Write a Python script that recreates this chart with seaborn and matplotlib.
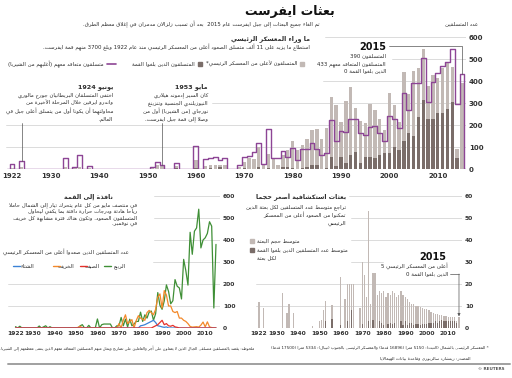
import re
import numpy as np
import pandas as pd
import matplotlib
matplotlib.use("Agg")
import matplotlib.pyplot as plt
import seaborn as sns
from matplotlib.lines import Line2D
from matplotlib.patches import Rectangle

# ---------------- data ----------------
years = list(range(1922, 2016))
decade_ticks = [1922, 1930, 1940, 1950, 1960, 1970, 1980, 1990, 2000, 2010]

climbers_total = [6, 0, 8, 0, 0, 0, 0, 0,
                  0, 0, 0, 9, 0, 5, 10, 0, 6, 0,
                  0, 0, 0, 0, 0, 0, 0, 1, 0, 0,
                  0, 3, 18, 15, 0, 0, 12, 0, 0, 0,
                  41, 0, 15, 18, 18, 18, 18, 0, 0, 10,
                  30, 48, 45, 100, 25, 70, 48, 18, 64, 86,
                  127, 86, 109, 135, 177, 182, 135, 185, 326, 291,
                  215, 311, 371, 276, 218, 211, 295, 268, 227, 177,
                  347, 291, 215, 442, 339, 445, 461, 544, 377, 427,
                  415, 458, 488, 465, 91, 390]
summiters = [0, 0, 0, 0, 0, 0, 0, 0,
             0, 0, 0, 0, 0, 0, 0, 0, 0, 0,
             0, 0, 0, 0, 0, 0, 0, 0, 0, 0,
             0, 0, 0, 2, 0, 0, 4, 0, 0, 0,
             3, 0, 0, 6, 0, 9, 0, 0, 0, 0,
             4, 0, 0, 8, 0, 6, 0, 0, 10, 8,
             5, 0, 6, 10, 18, 18, 2, 3, 53, 14,
             56, 26, 64, 79, 26, 56, 56, 48, 64, 71,
             71, 102, 86, 129, 162, 152, 238, 314, 227, 227,
             256, 253, 273, 305, 48, 0]
contracted = [25, 0, 38, 0, 0, 0, 0, 0,
              0, 0, 0, 48, 0, 10, 62, 0, 12, 0,
              0, 0, 0, 0, 0, 0, 0, 2, 0, 0,
              0, 8, 33, 18, 0, 0, 26, 0, 0, 0,
              105, 0, 44, 48, 56, 41, 48, 0, 0, 18,
              56, 60, 79, 117, 25, 180, 48, 48, 83, 56,
              97, 41, 89, 89, 117, 89, 64, 71, 223, 129,
              173, 170, 226, 227, 162, 155, 192, 195, 162, 129,
              242, 226, 185, 347, 268, 389, 389, 503, 306, 397,
              438, 470, 487, 545, 294, 433]

spring = [6, 0, 8, 0, 0, 0, 0, 0,
          0, 0, 0, 9, 0, 5, 10, 0, 6, 0,
          0, 0, 0, 0, 0, 0, 0, 1, 0, 0,
          0, 0, 10, 15, 0, 0, 12, 0, 0, 0,
          41, 0, 15, 18, 18, 18, 18, 0, 0, 10,
          10, 48, 10, 40, 5, 40, 10, 18, 30, 30,
          72, 30, 60, 45, 72, 77, 35, 65, 161, 103,
          85, 123, 196, 166, 110, 124, 220, 190, 182, 132,
          312, 261, 195, 435, 335, 440, 455, 540, 364, 400,
          410, 430, 483, 463, 91, 380]
autumn = [0, 0, 0, 0, 0, 0, 0, 0,
          0, 0, 0, 0, 0, 0, 0, 0, 0, 0,
          0, 0, 0, 0, 0, 0, 0, 0, 0, 0,
          0, 3, 8, 0, 0, 0, 0, 0, 0, 0,
          0, 0, 0, 0, 0, 0, 0, 0, 0, 0,
          20, 0, 35, 60, 20, 30, 38, 0, 34, 56,
          45, 40, 35, 70, 80, 70, 60, 85, 140, 155,
          90, 170, 150, 100, 100, 75, 70, 75, 45, 45,
          35, 30, 20, 7, 4, 5, 6, 4, 13, 27,
          5, 28, 5, 2, 0, 0]
winter = [0, 0, 0, 0, 0, 0, 0, 0,
          0, 0, 0, 0, 0, 0, 0, 0, 0, 0,
          0, 0, 0, 0, 0, 0, 0, 0, 0, 0,
          0, 0, 0, 0, 0, 0, 0, 0, 0, 0,
          0, 0, 0, 0, 0, 0, 0, 0, 0, 0,
          0, 0, 0, 0, 0, 0, 0, 0, 0, 0,
          10, 12, 15, 20, 25, 30, 35, 25, 10, 8,
          5, 3, 5, 0, 0, 0, 0, 0, 0, 0,
          0, 0, 0, 0, 0, 0, 0, 0, 0, 0,
          0, 0, 0, 0, 0, 0]
summer = [0, 0, 0, 0, 0, 0, 0, 0,
          0, 0, 0, 0, 0, 0, 0, 0, 0, 0,
          0, 0, 0, 0, 0, 0, 0, 0, 0, 0,
          0, 0, 0, 0, 0, 0, 0, 0, 0, 0,
          0, 0, 0, 0, 0, 0, 0, 0, 0, 0,
          0, 0, 0, 0, 0, 0, 0, 0, 0, 0,
          0, 0, 0, 0, 0, 0, 5, 10, 15, 25,
          35, 15, 20, 10, 8, 12, 5, 3, 0, 0,
          0, 0, 0, 0, 0, 0, 0, 0, 0, 0,
          0, 0, 0, 0, 0, 0]

avg_size = [12, 0, 9, 0, 0, 0, 0, 0,
            0, 0, 0, 16, 0, 6.6, 10.7, 0, 7, 0,
            0, 0, 0, 0, 0, 0, 0, 1, 0, 0,
            3, 3.6, 8, 12.5, 0, 0, 10.6, 0, 0, 0,
            23, 0, 13, 20, 20, 20, 20, 0, 0, 9,
            30, 24, 14, 53, 11, 25, 25, 15, 17, 16,
            17, 14, 16, 15, 17, 16, 14, 15, 17, 15,
            14, 13, 12, 11, 11, 10, 10, 9.5, 9, 8.5,
            8.5, 8, 7.5, 7, 6.5, 6.5, 6, 6, 5.5, 5.5,
            5, 5, 5, 5, 3, 5]
avg_summit = [0, 0, 0, 0, 0, 0, 0, 0,
              0, 0, 0, 0, 0, 0, 0, 0, 0, 0,
              0, 0, 0, 0, 0, 0, 0, 0, 0, 0,
              0, 0, 0, 3, 0, 0, 4, 0, 0, 0,
              1.5, 0, 0, 3, 0, 8, 0, 0, 0, 0,
              2, 0, 0, 3, 0, 3.5, 0, 0, 3, 2.5,
              1.5, 0, 2, 2.5, 2, 2.5, 0, 0, 3, 1.5,
              3, 1.5, 2.5, 2.5, 1.5, 2, 2, 1.5, 2, 2,
              1.8, 2.5, 2.5, 2.5, 3, 2.5, 3.2, 3.5, 3.3, 3,
              3.2, 3, 3.3, 3.4, 2.5, 0]

top_ticks = [0, 100, 200, 300, 400, 500, 600]
left_ticks = [0, 100, 200, 300, 400, 500, 600]
right_ticks = [0, 10, 20, 30, 40, 50, 60]

# ---------------- Arabic shaping helpers ----------------
_BASE = {'ء': 0xFE80, 'آ': 0xFE81, 'أ': 0xFE83, 'ؤ': 0xFE85, 'إ': 0xFE87, 'ئ': 0xFE89,
         'ا': 0xFE8D, 'ب': 0xFE8F, 'ة': 0xFE93, 'ت': 0xFE95, 'ث': 0xFE99, 'ج': 0xFE9D,
         'ح': 0xFEA1, 'خ': 0xFEA5, 'د': 0xFEA9, 'ذ': 0xFEAB, 'ر': 0xFEAD, 'ز': 0xFEAF,
         'س': 0xFEB1, 'ش': 0xFEB5, 'ص': 0xFEB9, 'ض': 0xFEBD, 'ط': 0xFEC1, 'ظ': 0xFEC5,
         'ع': 0xFEC9, 'غ': 0xFECD, 'ف': 0xFED1, 'ق': 0xFED5, 'ك': 0xFED9, 'ل': 0xFEDD,
         'م': 0xFEE1, 'ن': 0xFEE5, 'ه': 0xFEE9, 'و': 0xFEED, 'ى': 0xFEEF, 'ي': 0xFEF1}
_LAMALEF = {'آ': 0xFEF5, 'أ': 0xFEF7, 'إ': 0xFEF9, 'ا': 0xFEFB}
_DUAL = set('بتثجحخسشصضطظعغفقكلمنهيئ')
_RIGHT = set('اأإآدذرزوؤةى')


def _jt(tok):
    c = tok[0]
    if c == 'LA':
        return 'R'
    if c in _DUAL:
        return 'D'
    if c in _RIGHT:
        return 'R'
    return 'U'


def _shape(s):
    toks = []
    i = 0
    while i < len(s):
        c = s[i]
        if c == 'ل' and i + 1 < len(s) and s[i + 1] in _LAMALEF:
            toks.append(('LA', s[i + 1]))
            i += 2
        else:
            toks.append((c, None))
            i += 1
    out = []
    for k, tok in enumerate(toks):
        t = _jt(tok)
        if t == 'U' or (tok[0] not in _BASE and tok[0] != 'LA'):
            out.append(tok[0])
            continue
        jp = k > 0 and _jt(toks[k - 1]) == 'D'
        jn = t == 'D' and k + 1 < len(toks) and _jt(toks[k + 1]) in ('D', 'R')
        if tok[0] == 'LA':
            out.append(chr(_LAMALEF[tok[1]] + (1 if jp else 0)))
            continue
        b = _BASE[tok[0]]
        if t == 'R':
            out.append(chr(b + (1 if jp else 0)))
        else:
            if jp and jn:
                out.append(chr(b + 3))
            elif jp:
                out.append(chr(b + 1))
            elif jn:
                out.append(chr(b + 2))
            else:
                out.append(chr(b))
    return ''.join(out)


def _visual(s):
    toks = re.findall(r'[0-9A-Za-z]+(?:[.,][0-9]+)*|.', s)
    mirror = {'(': ')', ')': '('}
    toks = [mirror.get(t, t) for t in toks]
    return ''.join(reversed(toks))


def ar(s):
    return '\n'.join(_visual(_shape(line)) for line in s.split('\n'))


# ---------------- figure ----------------
sns.set_style("white")
plt.rcParams['font.family'] = ['DejaVu Sans']

W, H = 512, 378
fig = plt.figure(figsize=(W / 100, H / 100), dpi=100)
fig.patch.set_facecolor('white')

LIGHT = '#c2b9b5'
DARK = '#7a6d69'
PURPLE = '#8d4595'
GRID = '#d6d6d6'
TXT = '#2b2b2b'
C_SPRING = '#3f8f36'
C_SUMMER = '#e5312b'
C_AUTUMN = '#f3892a'
C_WINTER = '#3b82d6'


def rect(x0, y0, x1, y1):
    return [x0 / W, 1 - y1 / H, (x1 - x0) / W, (y1 - y0) / H]


def ftext(x, y, s, size=4.1, ha='right', weight='normal', color=TXT):
    fig.text(x / W, 1 - y / H, ar(s), fontsize=size, ha=ha, va='center',
             fontweight=weight, color=color)


def to_data(ax, x, y):
    return ax.transData.inverted().transform((x, H - y))


def style_axis(ax, xlim, ylim, yticks, labelsize=5, xlabels=True):
    ax.set_xlim(*xlim)
    ax.set_ylim(*ylim)
    ax.yaxis.tick_right()
    ax.set_yticks(yticks)
    ax.set_xticks(decade_ticks)
    if xlabels:
        ax.set_xticklabels([str(t) for t in decade_ticks], fontweight='bold')
    else:
        ax.set_xticklabels([])
    ax.set_yticklabels([str(t) for t in yticks], fontweight='bold')
    ax.tick_params(length=0, labelsize=labelsize, pad=2, colors='#333333')
    for sp in ax.spines.values():
        sp.set_visible(False)
    ax.set_xlabel('')
    ax.set_ylabel('')
    ax.set_facecolor('none')


def gridlines(ax, specs, x0, x1):
    for v, s, e in specs:
        ax.axhline(v, xmin=(s - x0) / (x1 - x0), xmax=(e - x0) / (x1 - x0),
                   color=GRID, lw=0.6, zorder=0)


# ---------- top chart ----------
ax1 = fig.add_axes(rect(6, 37, 466, 169))
df_top = pd.DataFrame({'year': years, 'total': climbers_total, 'summit': summiters})
sns.barplot(data=df_top, x='year', y='total', native_scale=True, width=0.7,
            color=LIGHT, saturation=1, errorbar=None, linewidth=0, ax=ax1)
sns.barplot(data=df_top, x='year', y='summit', native_scale=True, width=0.7,
            color=DARK, saturation=1, errorbar=None, linewidth=0, ax=ax1)
step_x = [years[0] - 1] + years + [years[-1] + 1]
step_y = [0] + contracted + [0]
sns.lineplot(x=step_x, y=step_y, drawstyle='steps-mid', color=PURPLE, lw=1.0,
             estimator=None, ax=ax1)
style_axis(ax1, (1920.76, 2015.83), (0, 600), top_ticks, xlabels=False)
gridlines(ax1, [(0, 6, 466), (100, 6, 466), (200, 6, 466), (300, 212, 466),
                (400, 323, 466), (500, 392, 466), (600, 325, 466)], 6, 466)

for yr in (1924, 1953):
    i = years.index(yr)
    _, ytop = to_data(ax1, 0, 123)
    ax1.plot([yr, yr], [ytop, contracted[i]], color='#555555', lw=0.5, clip_on=False)
xa, ya = to_data(ax1, 389, 46)
ax1.plot([xa, years[-1], years[-1]], [ya, ya, contracted[-1]], color='#555555',
         lw=0.5, clip_on=False)
ax1.set_xlim(1920.76, 2015.83)
ax1.set_ylim(0, 600)

# year labels of the top chart, placed through its data transform
for yr in decade_ticks:
    px, _ = ax1.transData.transform((yr, 0))
    fig.text(px / W, 1 - 176 / H, str(yr), fontsize=5, fontweight='bold',
             ha='center', va='center', color='#333333', zorder=10)

# ---------- bottom-left chart ----------
ax2 = fig.add_axes(rect(8, 196, 220, 328))
df_season = pd.DataFrame({
    'year': years * 4,
    'value': spring + autumn + winter + summer,
    'season': ['spring'] * len(years) + ['autumn'] * len(years) +
              ['winter'] * len(years) + ['summer'] * len(years)})
sns.lineplot(data=df_season, x='year', y='value', hue='season',
             hue_order=['spring', 'autumn', 'winter', 'summer'],
             palette={'spring': C_SPRING, 'autumn': C_AUTUMN,
                      'winter': C_WINTER, 'summer': C_SUMMER},
             lw=0.9, estimator=None, legend=False, ax=ax2)
style_axis(ax2, (1918.52, 2016.86), (0, 600), left_ticks, labelsize=4.3)
gridlines(ax2, [(0, 8, 220), (100, 8, 220), (200, 8, 220), (300, 153, 220),
                (400, 154, 220), (500, 154, 220), (600, 154, 220)], 8, 220)

# ---------- bottom-right chart ----------
ax3 = fig.add_axes(rect(256, 196, 462, 328))
df_exp = pd.DataFrame({'year': years, 'size': avg_size, 'summit': avg_summit})
sns.barplot(data=df_exp, x='year', y='size', native_scale=True, width=0.6,
            color=LIGHT, saturation=1, errorbar=None, linewidth=0, ax=ax3)
sns.barplot(data=df_exp, x='year', y='summit', native_scale=True, width=0.6,
            color=DARK, saturation=1, errorbar=None, linewidth=0, ax=ax3)
style_axis(ax3, (1920.6, 2016.4), (0, 60), right_ticks, labelsize=4.3)
gridlines(ax3, [(0, 256, 462), (10, 256, 462), (20, 256, 462), (30, 351, 383),
                (40, 351, 462), (50, 351, 462), (60, 349, 462)], 256, 462)
xb, yb = to_data(ax3, 450, 274)
ax3.plot([xb, years[-1]], [yb, yb], color='#555555', lw=0.5, clip_on=False)
ax3.annotate('', xy=(years[-1], avg_size[-1] + 0.3), xytext=(years[-1], yb),
             arrowprops=dict(arrowstyle='-|>', lw=0.5, color='#555555',
                             mutation_scale=4, shrinkA=0, shrinkB=0),
             annotation_clip=False)
ax3.set_xlim(1920.6, 2016.4)

# ---------------- texts ----------------
ftext(290, 12, 'بعثات ايفرست', size=9, ha='center', weight='bold', color='#111111')
ftext(320, 24, 'تم الغاء جميع البعثات إلى جبل ايفرست عام 2015  بعد أن تسبب زلزالان مدمران في إغلاق معظم الطرق.', size=3.9)
ftext(478, 24, 'عدد المتسلقين', size=3.9)
ftext(310, 39, 'ما وراء المعسكر الرئيسي', size=4.6, weight='bold')
ftext(310, 47, 'استطاع ما يزيد على 11 ألف متسلق الصعود أعلى من المعسكر الرئيسي منذ عام 1922 وبلغ 3700 منهم قمة ايفرست.', size=3.9)

fig.add_artist(Rectangle((300 / W, 1 - 66 / H), 4 / W, 4 / H, color=LIGHT,
                         transform=fig.transFigure))
ftext(297, 64, 'المتسلقون لأعلى من المعسكر الرئيسي*', size=3.9)
fig.add_artist(Rectangle((198 / W, 1 - 66 / H), 4 / W, 4 / H, color=DARK,
                         transform=fig.transFigure))
ftext(195, 64, 'المتسلقون الذين بلغوا القمة', size=3.9)
fig.add_artist(Line2D([107 / W, 116 / W], [1 - 64 / H] * 2, color=PURPLE, lw=1.2))
ftext(104, 64, 'متسلقون متعاقد معهم (أغلبهم من الشيربا)', size=3.9)

ftext(113, 87, 'يونيو 1924', size=4.6, weight='bold')
for k, line in enumerate(['اختفى المتسلقان البريطانيان جورج مالوري',
                          'واندرو ايرفين خلال المرحلة الأخيرة من',
                          'محاولتهما أن يكونا أول من يتسلق أعلى جبل في',
                          'العالم.']):
    ftext(113, 95 + 8 * k, line, size=3.9)
ftext(208, 87, 'مايو 1953', size=4.6, weight='bold')
for k, line in enumerate(['كان السير إدموند هيلاري',
                          'النيوزيلندي الجنسية وتنزينغ',
                          'نورجاي (من الشيربا) أول من',
                          'وصلا إلى قمة جبل ايفرست.']):
    ftext(208, 95 + 8 * k, line, size=3.9)
ftext(386, 47, '2015', size=7, weight='bold', color='#111111')
ftext(386, 56, 'المتسلقون 390', size=3.9)
ftext(386, 64, 'المتسلقون المتعاقد معهم 433', size=3.9)
ftext(386, 71, 'الذين بلغوا القمة 0', size=3.9)

ftext(113, 197, 'نافذة إلى القمة', size=4.6, weight='bold')
for k, line in enumerate(['في منتصف مايو من كل عام يتحرك تيار إلى الشمال حاملا',
                          'رياحا هادئة ودرجات حرارة دافئة بما يكفي ليحاول',
                          'المتسلقون الصعود. وتكون هناك فترة مشابهة كل خريف',
                          'في نوفمبر.']):
    ftext(137, 205 + 6.5 * k, line, size=3.9)
ftext(129, 252, 'عدد المتسلقين الذين صعدوا أعلى من المعسكر الرئيسي', size=3.9)
for lx, tx, col, lab in [(104, 126, C_SPRING, 'الربيع'), (80, 100, C_SUMMER, 'الصيف'),
                         (53, 74, C_AUTUMN, 'الخريف'), (13, 34, C_WINTER, 'الشتاء')]:
    fig.add_artist(Line2D([lx / W, (lx + 7) / W], [1 - 266 / H] * 2, color=col, lw=1.0))
    ftext(tx, 266, lab, size=3.9)

ftext(346, 197, 'بعثات استكشافية أصغر حجما', size=4.6, weight='bold')
for k, line in enumerate(['تراجع متوسط عدد المتسلقين لكل بعثة الذين',
                          'تمكنوا من الصعود أعلى من المعسكر',
                          'الرئيسي']):
    ftext(346, 207 + 8 * k, line, size=3.9)
fig.add_artist(Rectangle((250 / W, 1 - 243 / H), 4 / W, 4 / H, color=LIGHT,
                         transform=fig.transFigure))
ftext(257, 241, 'متوسط حجم البعثة', size=3.9, ha='left')
fig.add_artist(Rectangle((250 / W, 1 - 252 / H), 4 / W, 4 / H, color=DARK,
                         transform=fig.transFigure))
ftext(257, 250, 'متوسط عدد المتسلقين الذين بلغوا القمة', size=3.9, ha='left')
ftext(257, 258, 'لكل بعثة', size=3.9, ha='left')
ftext(446, 257, '2015', size=7, weight='bold', color='#111111')
ftext(448, 266, 'أعلى من المعسكر الرئيسي 5', size=3.9)
ftext(448, 274, 'الذين بلغوا القمة 0', size=3.9)

ftext(489, 347, '* المعسكر الرئيسي بالشمال (التبت): 5150 مترا (16896 قدما) والمعسكر الرئيسي بالجنوب (نيبال): 5334 مترا (17500 قدما)', size=3.0)
ftext(254, 348, 'ملحوظة: يقصد بالمتسلقين متسلقي الجبال الذين لا يعملون على أجر والعاملين على تصاريح ويمثل منهم المتسلقين المتعاقد معهم الذين ينتمي معظمهم إلى الشيربا.', size=2.7)
ftext(470, 358, 'المصدر: ريتشارد سالزبوري وقاعدة بيانات الهيمالايا', size=3.2)
fig.add_artist(Line2D([8 / W, 510 / W], [1 - 364 / H] * 2, color='#a0a0a0', lw=1.4))
fig.text(478 / W, 1 - 369 / H, '© REUTERS', fontsize=3.0, ha='left', va='center',
         fontweight='bold', color='#555555')

fig.savefig('out.png', dpi=100, facecolor='white')
